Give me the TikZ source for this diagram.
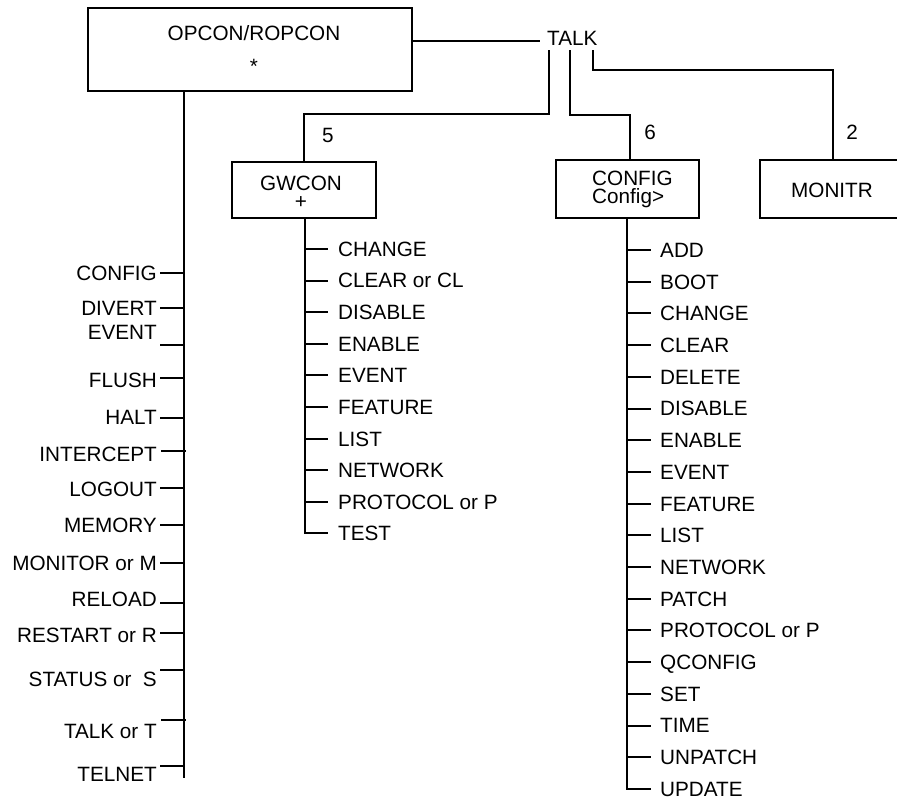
\documentclass[tikz,border=0pt]{standalone}
\usepackage{fontspec}
\setmainfont{Liberation Sans}
\begin{document}
\begin{tikzpicture}[x=1pt,y=-1pt,
  ln/.style={line width=2pt},
  box/.style={draw,line width=2pt,inner sep=0pt},
  lbl/.style={font=\fontsize{20.7pt}{24pt}\selectfont,inner sep=0pt,text height=14.8pt,text depth=0pt},
  blbl/.style={font=\fontsize{20.7pt}{24pt}\selectfont,inner sep=0pt},
  mlbl/.style={font=\fontsize{20.7pt}{17.5pt}\selectfont,inner sep=0pt}
]
\useasboundingbox (0,0) rectangle (897,810);
\clip (0,0) rectangle (897,810);

% top box
\node[box,minimum width=324pt,minimum height=83pt] (opcon) at (250,49.5) {};
\node[lbl] (opcont) at (254,33) {OPCON/ROPCON};
\node[blbl,anchor=base] (star) at (254,74) {*};

% TALK
\node[lbl,inner xsep=7pt,inner ysep=4.6pt,anchor=west] (talk) at (540,38) {TALK};
\draw[ln] (opcon.east |- 0,41) -- (talk.west |- 0,41);

% GWCON
\node[box,minimum width=144pt,minimum height=56pt] (gw) at (304,190) {};
\node[mlbl,align=center,anchor=north] (gwt) at (301,176.2) {GWCON\\+};
% CONFIG
\node[box,minimum width=143pt,minimum height=58pt] (cf) at (627.5,189) {};
\node[mlbl,align=left,anchor=north west] (cft) at (592,171.2) {CONFIG\\Config>};
% MONITR
\node[box,minimum width=150pt,minimum height=58pt] (mon) at (835,189.5) {};
\node[lbl] (mont) at (832,190) {MONITR};

% branches from TALK
\draw[ln] (talk.south -| 549,0) |- (gw.north |- 0,114) -- (gw.north);
\draw[ln] (talk.south -| 570,0) |- (630,115) -- (cf.north -| 630,0);
\draw[ln] (talk.south -| 593,0) |- (833,70) -- (mon.north -| 833,0);
\node[lbl] (n5) at (328,135) {5};
\node[lbl] (n6) at (650,132) {6};
\node[lbl] (n2) at (852,132) {2};

% left trunk
\coordinate (ltop) at (opcon.south -| 183.5,0);
\coordinate (lbot) at (183.5,778);
\draw[ln] (ltop) -- (lbot);
\foreach \t/\ty/\ky/\xa/\xb [count=\i] in {
  CONFIG/273/273/160/183.5,
  DIVERT/308/308/160/183.5,
  EVENT/332/345/160/183.5,
  FLUSH/380/378/160/183.5,
  HALT/417/418/160/183.5,
  INTERCEPT/454/451/161/186,
  LOGOUT/489/488/160/183.5,
  MEMORY/525/525/160/183.5,
  MONITOR or M/563/563/160/183.5,
  RELOAD/599/603/160/183.5,
  RESTART or R/635/633/160/183.5,
  STATUS or\ \ S/679/670/160/183.5,
  TALK or T/731/720/161/186,
  TELNET/774/766/160/183.5}{
  \node[lbl,anchor=east] (L\i) at (157,\ty) {\t};
  \draw[ln] (\xa,\ky) -- (\xb,\ky);
}

% GWCON list
\draw[ln] (gw.south -| 305,0) -- (305,534);
\foreach \t [count=\i from 0] in {CHANGE,CLEAR or CL,DISABLE,ENABLE,EVENT,FEATURE,LIST,NETWORK,PROTOCOL or P,TEST}{
  \pgfmathsetmacro{\yy}{249+31.6*\i}
  \node[lbl,anchor=west,inner xsep=10pt] (G\i) at (328,\yy) {\t};
  \draw[ln] (304,\yy) -- (G\i.west);
}

% CONFIG list
\draw[ln] (cf.south -| 627,0) -- (627,789.7);
\foreach \t [count=\i from 0] in {ADD,BOOT,CHANGE,CLEAR,DELETE,DISABLE,ENABLE,EVENT,FEATURE,LIST,NETWORK,PATCH,PROTOCOL or P,QCONFIG,SET,TIME,UNPATCH,UPDATE}{
  \pgfmathsetmacro{\yy}{250+31.7*\i}
  \node[lbl,anchor=west,inner xsep=9pt] (C\i) at (651,\yy) {\t};
  \draw[ln] (626,\yy) -- (C\i.west);
}
\end{tikzpicture}
\end{document}
